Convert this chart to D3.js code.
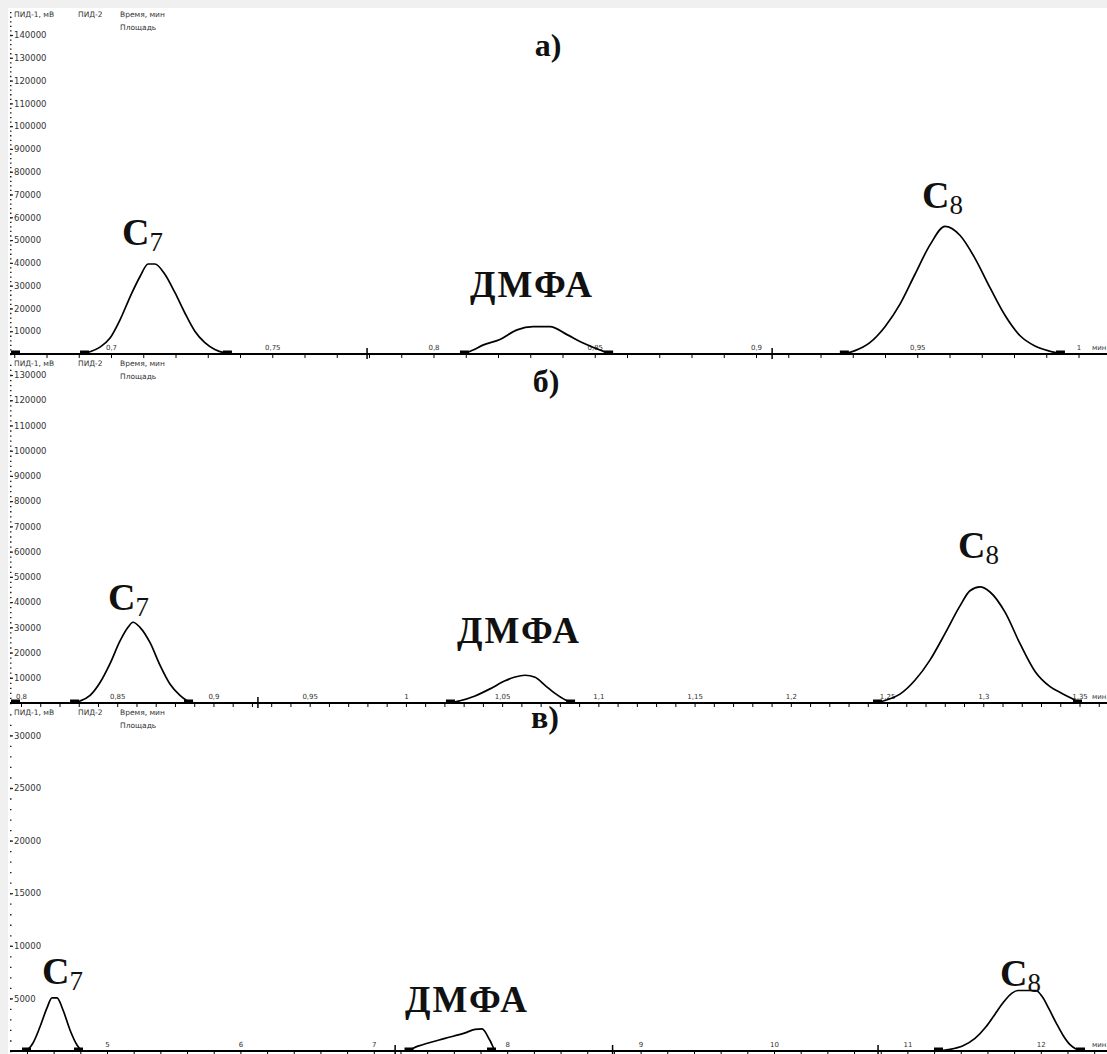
<!DOCTYPE html>
<html>
<head>
<meta charset="utf-8">
<script src="https://cdn.jsdelivr.net/npm/d3@7"></script>
<style>
  html, body { margin: 0; padding: 0; background: #f0f0f0; }
  svg { display: block; }
  .small { font-family: "DejaVu Sans", sans-serif; fill: #333; }
  .big { font-family: "Liberation Serif", "Times New Roman", serif; fill: #111; }
</style>
</head>
<body>
<svg id="chart" width="1107" height="1054"></svg>
<script>
// Chromatogram traces: [retention time, min ; detector signal]
// panel а)
const c7A = [
  [0.6904, 0], [0.6935, 1000], [0.6966, 3000], [0.6997, 7000], [0.7028, 15000],
  [0.7059, 25000], [0.7090, 34000], [0.7115, 39500], [0.7136, 39500], [0.7167, 35000],
  [0.7198, 27000], [0.7229, 18000], [0.7260, 10000], [0.7291, 5000], [0.7322, 2000],
  [0.7353, 500], [0.7375, 0]
];
const dmfaA = [
  [0.8082, 0], [0.8119, 1500], [0.8153, 3900], [0.8206, 6400], [0.8259, 10600],
  [0.8309, 12000], [0.8361, 12000], [0.8414, 8500], [0.8464, 4800], [0.8516, 1750],
  [0.8557, 0]
];
const c8A = [
  [0.9260, 0], [0.9307, 1500], [0.9353, 5000], [0.9400, 12000], [0.9447, 22000],
  [0.9493, 35000], [0.9540, 48000], [0.9586, 56000], [0.9633, 52000], [0.9679, 42000],
  [0.9726, 29000], [0.9772, 17000], [0.9819, 8000], [0.9865, 3500], [0.9912, 1200],
  [0.9958, 0]
];
// panel б)
const c7B = [
  [0.8255, 0], [0.8307, 800], [0.8359, 3000], [0.8410, 8000], [0.8462, 15500],
  [0.8514, 24500], [0.8556, 30000], [0.8582, 32000], [0.8618, 30000], [0.8670, 24000],
  [0.8722, 15000], [0.8774, 7500], [0.8826, 3000], [0.8857, 1200], [0.8894, 0]
];
const dmfaB = [
  [1.0208, 0], [1.0281, 900], [1.0359, 2800], [1.0437, 5600], [1.0515, 8800],
  [1.0567, 10300], [1.0619, 11000], [1.0671, 10200], [1.0723, 7000], [1.0775, 3800],
  [1.0827, 1300], [1.0879, 0]
];
const c8B = [
  [1.2427, 0], [1.2489, 1000], [1.2567, 3500], [1.2645, 9000], [1.2723, 17000],
  [1.2801, 27500], [1.2879, 38500], [1.2931, 44500], [1.2983, 46000], [1.3035, 44000],
  [1.3113, 36000], [1.3191, 23500], [1.3269, 12500], [1.3347, 6500], [1.3409, 3800],
  [1.3461, 1800], [1.3513, 0]
];
// panel в)
const c7C = [
  [4.3628, 0], [4.4003, 100], [4.4453, 760], [4.4978, 2300], [4.5502, 4100],
  [4.5877, 5050], [4.6252, 5050], [4.6702, 3900], [4.7226, 2000], [4.7751, 570],
  [4.8201, 0]
];
const dmfaC = [
  [7.2302, 0], [7.3313, 460], [7.5337, 1200], [7.6786, 1700], [7.7586, 2050],
  [7.8111, 2100], [7.8711, 1000], [7.9160, 0]
];
const c8C = [
  [11.1994, 0], [11.3193, 150], [11.4168, 500], [11.5067, 1200], [11.5892, 2300],
  [11.6567, 3500], [11.7241, 4700], [11.7841, 5500], [11.8291, 5750], [11.9640, 5750],
  [12.0090, 5200], [12.0615, 4000], [12.1139, 2700], [12.1664, 1500], [12.2189, 600],
  [12.2639, 200], [12.3313, 0]
];

// axis ticks and their labels
const xTicksA = [0.7, 0.75, 0.8, 0.85, 0.9, 0.95, 1];
const xLabelsA = ['0,7', '0,75', '0,8', '0,85', '0,9', '0,95', '1'];
const xTicksB = [0.8, 0.85, 0.9, 0.95, 1, 1.05, 1.1, 1.15, 1.2, 1.25, 1.3, 1.35];
const xLabelsB = ['0,8', '0,85', '0,9', '0,95', '1', '1,05', '1,1', '1,15', '1,2', '1,25', '1,3', '1,35'];
const xTicksC = [5, 6, 7, 8, 9, 10, 11, 12];
const xLabelsC = ['5', '6', '7', '8', '9', '10', '11', '12'];
const yTicksA = [10000, 20000, 30000, 40000, 50000, 60000, 70000, 80000, 90000, 100000, 110000, 120000, 130000, 140000];
const yTicksB = [10000, 20000, 30000, 40000, 50000, 60000, 70000, 80000, 90000, 100000, 110000, 120000, 130000];
const yTicksC = [5000, 10000, 15000, 20000, 25000, 30000];
// event marks on the time axis
const eventsA = [0.7794, 0.905];
const eventsB = [0.9231];
const eventsC = [7.16, 8.79, 10.78];

const headerTexts = ['ПИД-1, мВ', 'ПИД-2', 'Время, мин', 'Площадь'];

const W = 1107, H = 1054, LEFT = 10;
const svg = d3.select('#chart');

// white sheet; the grey window frame stays visible at top and left
svg.append('rect')
  .attr('x', 8).attr('y', 8).attr('width', W).attr('height', H)
  .attr('fill', '#fff');

// layout of each chromatogram
const panels = [
  { title: 'а)', titleX: 548, titleY: 56, top: 5, axisY: 354,
    xRef: [0.7, 1.0], xRefPx: [111, 1078.5], yMax: 140000, yMaxPx: 35,
    xTicks: xTicksA, xLabels: xLabelsA, xMinor: 0.01, yTicks: yTicksA, yMinor: 2000,
    peaks: [c7A, dmfaA, c8A], events: eventsA, startMark: true,
    names: [{ t: 'C', sub: '7', x: 122, y: 245 }, { t: 'ДМФА', x: 470, y: 297 }, { t: 'C', sub: '8', x: 922, y: 208 }] },
  { title: 'б)', titleX: 546, titleY: 392, top: 354, axisY: 703,
    xRef: [0.8, 1.35], xRefPx: [21, 1079.5], yMax: 130000, yMaxPx: 375,
    xTicks: xTicksB, xLabels: xLabelsB, xMinor: 0.01, yTicks: yTicksB, yMinor: 2000,
    peaks: [c7B, dmfaB, c8B], events: eventsB, startMark: true,
    names: [{ t: 'C', sub: '7', x: 108, y: 610 }, { t: 'ДМФА', x: 457, y: 643 }, { t: 'C', sub: '8', x: 958, y: 558 }] },
  { title: 'в)', titleX: 545, titleY: 728, top: 703, axisY: 1051,
    xRef: [5, 12], xRefPx: [107, 1040.8], yMax: 30000, yMaxPx: 735.4,
    xTicks: xTicksC, xLabels: xLabelsC, xMinor: 0.2, yTicks: yTicksC, yMinor: 1000,
    peaks: [c7C, dmfaC, c8C], events: eventsC, startMark: false,
    names: [{ t: 'C', sub: '7', x: 42, y: 984 }, { t: 'ДМФА', x: 405, y: 1012 }, { t: 'C', sub: '8', x: 1000, y: 986 }] }
];

const drawPanel = p => {
  const g = svg.append('g');
  const x = d3.scaleLinear().domain(p.xRef).range(p.xRefPx);
  const y = d3.scaleLinear().domain([0, p.yMax]).range([p.axisY, p.yMaxPx]);
  const tStart = x.invert(LEFT), tEnd = x.invert(W);

  // header line of the instrument software
  const hdr = g.append('g').attr('class', 'small').style('font-size', '7.5px');
  hdr.append('text').attr('x', 14).attr('y', p.top + 12).text(headerTexts[0]);
  hdr.append('text').attr('x', 78).attr('y', p.top + 12).text(headerTexts[1]);
  hdr.append('text').attr('x', 120).attr('y', p.top + 12).text(headerTexts[2]);
  hdr.append('text').attr('x', 120).attr('y', p.top + 25).text(headerTexts[3]);

  // dotted signal axis
  const minorY = d3.range(0, y.invert(p.top + 6), p.yMinor);
  g.append('g').attr('transform', `translate(${LEFT},0)`)
    .call(d3.axisRight(y).tickValues(minorY).tickSize(1.5).tickFormat(''))
    .call(a => a.select('.domain').remove())
    .call(a => a.selectAll('line').attr('stroke', '#222').attr('stroke-width', 1.3));
  g.append('g').attr('transform', `translate(${LEFT},0)`)
    .call(d3.axisRight(y).tickValues(p.yTicks).tickSize(3).tickPadding(1).tickFormat(d3.format('d')))
    .call(a => a.select('.domain').remove())
    .call(a => a.selectAll('line').attr('stroke', '#222').attr('stroke-width', 1.2))
    .call(a => a.selectAll('text').attr('class', 'small').style('font-size', '8.5px').attr('fill', null));

  // time axis: minor ticks below the line, labels above it
  const minorX = d3.range(Math.ceil(tStart / p.xMinor) * p.xMinor, tEnd, p.xMinor);
  g.append('g').attr('transform', `translate(0,${p.axisY})`)
    .call(d3.axisBottom(x).tickValues(minorX).tickSize(4).tickFormat(''))
    .call(a => a.select('.domain').remove())
    .call(a => a.selectAll('line').attr('stroke', '#000'));
  g.append('g').attr('transform', `translate(0,${p.axisY})`)
    .call(d3.axisTop(x).tickValues(p.xTicks).tickSize(0).tickPadding(4).tickFormat((d, i) => p.xLabels[i]))
    .call(a => a.select('.domain').remove())
    .call(a => a.selectAll('text').attr('class', 'small').style('font-size', '7px').attr('fill', null));
  g.append('text').attr('class', 'small').style('font-size', '7px')
    .attr('x', 1092).attr('y', p.axisY - 4).text('мин');
  g.append('line')
    .attr('x1', LEFT).attr('x2', W).attr('y1', p.axisY).attr('y2', p.axisY)
    .attr('stroke', '#000').attr('stroke-width', 2);
  g.selectAll('.event').data(p.events).join('line')
    .attr('x1', d => x(d)).attr('x2', d => x(d))
    .attr('y1', p.axisY - 6).attr('y2', p.axisY + 5)
    .attr('stroke', '#000').attr('stroke-width', 1.5);

  // baseline marks at the start and end of every integrated peak
  const marks = p.peaks.flatMap(pk => [[x(pk[0][0]), 0], [x(pk[pk.length - 1][0]) - 9, 0]]);
  if (p.startMark) marks.unshift([LEFT + 1, 0]);
  g.selectAll('.mark').data(marks).join('rect')
    .attr('x', d => d[0]).attr('y', p.axisY - 3.5)
    .attr('width', 9).attr('height', 3).attr('fill', '#000');

  // the detector trace
  const trace = [[tStart, 0], ...p.peaks.flat(), [tEnd, 0]];
  const line = d3.line().x(d => x(d[0])).y(d => y(d[1])).curve(d3.curveMonotoneX);
  g.append('path').datum(trace)
    .attr('d', line)
    .attr('fill', 'none').attr('stroke', '#000').attr('stroke-width', 1.7);

  // panel letter and peak names
  g.append('text').attr('class', 'big')
    .attr('x', p.titleX).attr('y', p.titleY).attr('text-anchor', 'middle')
    .style('font-size', '32px').style('font-weight', 'bold').text(p.title);
  p.names.forEach(n => {
    const t = g.append('text').attr('class', 'big')
      .attr('x', n.x).attr('y', n.y)
      .style('font-size', n.sub ? '38px' : '37px').style('font-weight', 'bold')
      .style('letter-spacing', n.sub ? null : '2px');
    t.append('tspan').text(n.t);
    if (n.sub) {
      t.append('tspan').attr('dy', 6).style('font-size', '27px').style('font-weight', 'normal').text(n.sub);
    }
  });
};

panels.forEach(drawPanel);
</script>
</body>
</html>
